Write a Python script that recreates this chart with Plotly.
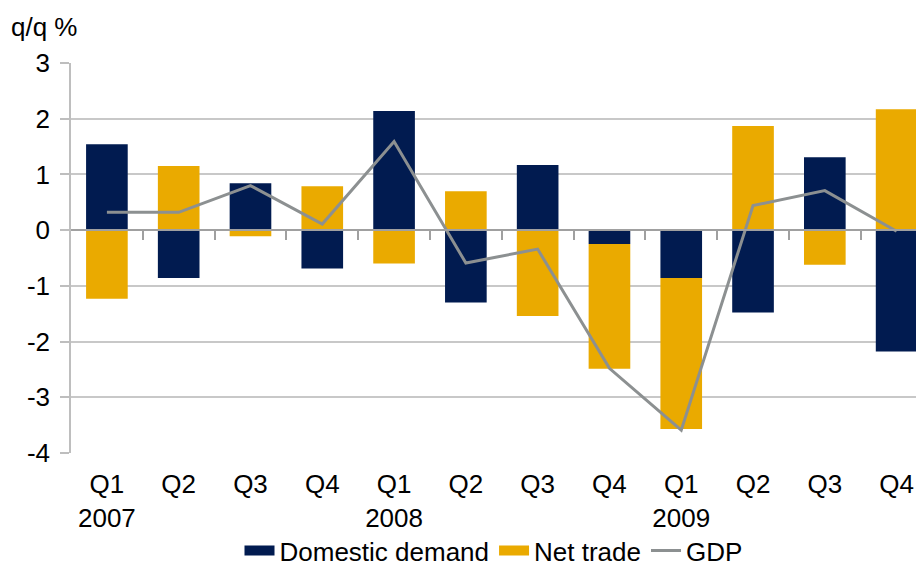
import plotly.graph_objects as go

quarters = ["Q1", "Q2", "Q3", "Q4", "Q1", "Q2", "Q3", "Q4", "Q1", "Q2", "Q3", "Q4"]
years = ["2007", "", "", "", "2008", "", "", "", "2009", "", "", ""]
domestic_demand = [1.54, -0.86, 0.84, -0.69, 2.14, -1.30, 1.17, -0.25, -0.86, -1.48, 1.31, -2.18]
net_trade = [-1.23, 1.15, -0.11, 0.79, -0.60, 0.70, -1.54, -2.24, -2.71, 1.87, -0.62, 2.17]
gdp = [0.32, 0.32, 0.80, 0.11, 1.59, -0.59, -0.34, -2.48, -3.59, 0.44, 0.71, -0.02]
y_ticks = [-4, -3, -2, -1, 0, 1, 2, 3]

x = list(range(len(quarters)))
ticktext = [q + ("<br>" + y if y else "") for q, y in zip(quarters, years)]

NAVY = "#011B50"
GOLD = "#EAAA00"
GREY = "#8C9091"
FONT = "Liberation Sans, Arial, sans-serif"

fig = go.Figure()
fig.add_trace(go.Bar(x=x, y=domestic_demand, name="Domestic demand", legendgroup="dd",
                     showlegend=False,
                     marker=dict(color=NAVY, line=dict(width=0)), width=0.58))
fig.add_trace(go.Bar(x=x, y=net_trade, name="Net trade", legendgroup="nt",
                     showlegend=False,
                     marker=dict(color=GOLD, line=dict(width=0)), width=0.58))
fig.add_trace(go.Scatter(x=x, y=gdp, name="GDP", mode="lines", xaxis="x2",
                         showlegend=False, legendgroup="gdp",
                         line=dict(color=GREY, width=3)))
# legend entries (wide rectangular keys like the original)
fig.add_trace(go.Scatter(x=[None], y=[None], name="Domestic demand", mode="lines",
                         legendgroup="dd", line=dict(color=NAVY, width=17)))
fig.add_trace(go.Scatter(x=[None], y=[None], name="Net trade", mode="lines",
                         legendgroup="nt", line=dict(color=GOLD, width=17)))
fig.add_trace(go.Scatter(x=[None], y=[None], name="GDP", mode="lines",
                         legendgroup="gdp", line=dict(color=GREY, width=3)))

xr = [-0.5, 11.27]
fig.update_layout(
    width=916, height=568,
    margin=dict(l=71, r=0, t=63, b=115, autoexpand=False),
    paper_bgcolor="white", plot_bgcolor="white",
    barmode="relative",
    font=dict(family=FONT, size=26, color="#000000"),
    xaxis=dict(range=xr, tickvals=x, ticktext=ticktext, showgrid=False,
               zeroline=False, showline=False, ticks="", ticklabelstandoff=13,
               tickfont=dict(size=26), automargin=False),
    xaxis2=dict(range=xr, overlaying="x", anchor="free", position=4/7,
                showgrid=False, zeroline=False, showline=True, linecolor="#A0A0A0",
                linewidth=1.5, ticks="outside", ticklen=9, tickcolor="#A0A0A0",
                tickwidth=1.5, tickvals=[i + 0.5 for i in range(11)],
                showticklabels=False),
    yaxis=dict(range=[-4, 3], tickvals=y_ticks, ticktext=[str(v) for v in y_ticks],
               showgrid=True, gridcolor="#C8C8C8",
               gridwidth=1.5, zeroline=False, showline=True, linecolor="#BEBEBE",
               linewidth=1.5, ticks="outside", ticklen=9, tickcolor="#BEBEBE",
               tickwidth=1.5, ticklabelstandoff=5, tickfont=dict(size=26),
               automargin=False),
    legend=dict(orientation="h", x=0.5, xanchor="center", y=-0.19, yanchor="top",
                font=dict(size=26), tracegroupgap=0,
                bgcolor="rgba(0,0,0,0)"),
    showlegend=True,
    annotations=[dict(text="q/q %", xref="paper", yref="paper", x=-0.073, y=1.092,
                      xanchor="left", yanchor="middle", showarrow=False,
                      font=dict(size=26))],
)

fig.write_html("out.html", config={"displayModeBar": False},
               post_script="document.body.style.margin='0px';")
